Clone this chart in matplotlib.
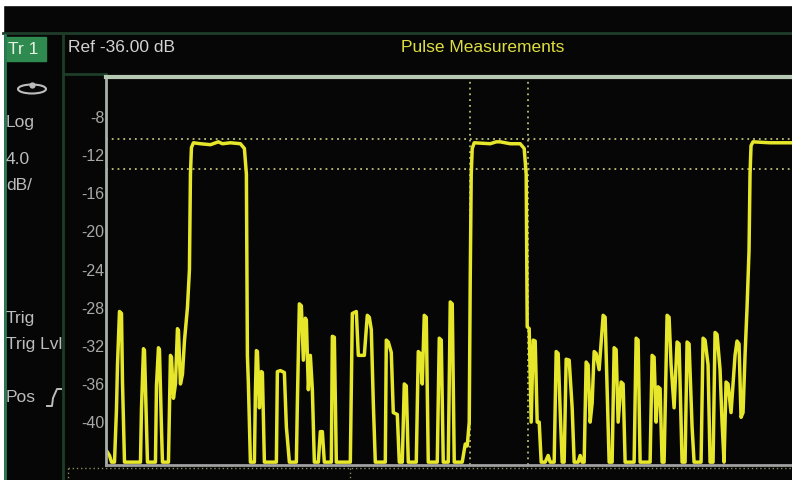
import numpy as np
import matplotlib
matplotlib.use("Agg")
import matplotlib.pyplot as plt
from matplotlib.patches import Rectangle, Ellipse

plt.rcParams['font.family'] = ['Liberation Sans', 'DejaVu Sans']

# trace vertices: time (samples) and level (dB)
trace_t = [1, 4, 6, 9, 11, 12, 14, 16, 17, 19, 35, 36, 38, 39, 41, 42, 50, 51, 53, 54,
           56, 57, 63, 65, 66, 68, 70, 72, 73, 75, 77, 79, 82, 84, 85, 86, 88, 95, 105, 113,
           117, 125, 135, 139, 141, 142, 143, 145, 149, 150, 151, 152, 154, 156, 157, 159, 171, 172, 175, 179,
           181, 184, 191, 192, 194, 196, 198, 200, 201, 203, 205, 207, 209, 213, 215, 217, 219, 226, 227, 229,
           231, 245, 247, 251, 253, 259, 262, 264, 266, 268, 270, 280, 281, 283, 286, 288, 292, 294, 297, 299,
           301, 303, 311, 313, 315, 317, 319, 321, 323, 332, 334, 336, 338, 343, 345, 347, 349, 357, 360, 362,
           364, 365, 366, 367, 369, 385, 391, 395, 405, 415, 419, 421, 422, 424, 426, 428, 430, 432, 434, 436,
           440, 443, 445, 449, 451, 453, 455, 457, 459, 461, 464, 467, 469, 473, 475, 477, 479, 481, 483, 485,
           487, 489, 491, 494, 498, 500, 502, 504, 507, 509, 511, 513, 516, 518, 520, 529, 531, 533, 535, 545,
           547, 549, 551, 553, 555, 557, 559, 562, 564, 566, 569, 572, 574, 577, 580, 582, 584, 587, 589, 596,
           598, 600, 603, 605, 608, 610, 612, 615, 617, 619, 621, 623, 626, 630, 632, 634, 636, 638, 640, 642,
           644, 645, 646, 648, 665, 687]
trace_db = [-43.0, -43.5, -44.2, -44.2, -38.6, -34.0, -28.4, -28.6, -35.8, -44.2, -44.2, -38.6, -32.3, -32.5, -40.6, -44.2, -44.2, -36.2, -32.2, -32.4,
            -40.6, -44.2, -44.2, -33.0, -33.2, -37.5, -36.0, -30.2, -30.4, -36.0, -35.0, -31.5, -28.0, -24.0, -14.0, -11.2, -10.7, -10.8, -10.9, -10.6,
            -10.8, -10.7, -10.8, -11.3, -14.0, -33.0, -36.0, -44.2, -44.2, -37.0, -32.5, -32.6, -38.5, -34.7, -34.8, -44.2, -44.2, -34.7, -34.6, -34.8,
            -40.5, -44.2, -44.2, -38.0, -27.6, -27.8, -33.5, -29.1, -29.3, -36.6, -33.0, -36.6, -44.2, -44.2, -41.0, -41.0, -44.2, -44.2, -31.0, -31.1,
            -44.2, -44.2, -28.6, -28.4, -33.0, -33.0, -28.8, -29.0, -30.3, -38.0, -44.2, -44.2, -31.4, -31.6, -32.7, -39.0, -39.2, -44.2, -44.2, -36.0,
            -36.2, -44.2, -44.2, -32.6, -32.8, -36.0, -28.8, -29.0, -44.2, -44.2, -31.2, -31.4, -44.2, -44.2, -27.4, -27.6, -44.2, -44.2, -42.3, -42.5,
            -40.0, -25.0, -14.0, -11.3, -10.7, -10.8, -10.6, -10.6, -10.8, -10.8, -11.3, -14.0, -30.0, -30.2, -40.0, -31.4, -31.5, -40.0, -40.0, -44.2,
            -44.2, -43.5, -44.2, -44.2, -32.6, -32.8, -38.8, -44.2, -44.2, -33.4, -33.5, -38.5, -44.2, -44.2, -43.5, -44.2, -44.2, -33.7, -34.0, -40.0,
            -38.0, -32.6, -32.8, -34.5, -28.8, -29.0, -36.7, -44.2, -44.2, -32.2, -32.4, -40.0, -35.8, -36.0, -44.2, -44.2, -31.2, -31.4, -44.2, -44.2,
            -33.0, -33.2, -40.0, -36.3, -36.5, -44.2, -44.2, -28.8, -29.0, -34.0, -38.5, -31.6, -31.8, -44.2, -44.2, -31.6, -31.8, -40.5, -44.2, -44.2,
            -31.2, -31.4, -34.0, -44.2, -44.2, -30.6, -30.8, -34.5, -40.0, -44.2, -35.8, -36.0, -39.0, -33.0, -31.5, -31.8, -39.5, -39.0, -33.0, -28.0,
            -22.0, -14.0, -11.0, -10.6, -10.7, -10.7]

y_ticks = [-8, -12, -16, -20, -24, -28, -32, -36, -40]
ref_lines_db = [-10.3, -13.5]
marker_t = [365, 423]

side_labels = ["Log", "4.0", "dB/", "Trig", "Trig Lvl", "Pos"]
side_label_y = [122, 160, 186, 318, 345, 398]

YEL = "#e6e62a"
DOT = "#bebe78"
GRAY = "#bcbcbc"

fig = plt.figure(figsize=(7.92, 4.8), dpi=100)
fig.patch.set_facecolor("#060606")

# background layer in pixel units for the instrument frame
bg = fig.add_axes([0, 0, 1, 1], zorder=0)
bg.set_xlim(0, 792)
bg.set_ylim(480, 0)
bg.axis("off")
bg.add_patch(Rectangle((0, 0), 792, 5, color="white"))
bg.add_patch(Rectangle((0, 0), 3, 480, color="white"))
bg.plot([3, 792], [33, 33], color="#1f3d2b", lw=2)
bg.plot([4.5, 4.5], [35, 480], color="#2a7a55", lw=2)
bg.plot([63, 63], [35, 480], color="#1d3d28", lw=2)
bg.plot([63, 106], [74, 74], color="#1d3d28", lw=2)
bg.add_patch(Rectangle((5, 37), 41, 24, color="#2f8a50"))
bg.text(8, 49, "Tr 1", color="#e4f2e4", fontsize=12.5, va="center")
bg.add_patch(Ellipse((32, 89), 28, 9, fill=False, ec=GRAY, lw=1.5))
bg.plot([32], [84.5], "o", color=GRAY, ms=3.5)
for lab, yy in zip(side_labels, side_label_y):
    bg.text(6, yy, lab, color=GRAY, fontsize=12.5, va="center")
# rising edge symbol after "Pos"
bg.plot([47, 52, 53, 57, 61], [406, 406, 398, 389, 389], color=GRAY, lw=1.4)
bg.text(68, 48, "Ref -36.00 dB", color="#d2d2d2", fontsize=12.5, va="center")
bg.text(483, 48, "Pulse Measurements", color="#dede40", fontsize=12.5,
        va="center", ha="center")
bg.plot([68, 792], [468, 468], color="#8a8a60", lw=1, ls=(0, (1, 2)))
bg.plot([68, 68], [468, 480], color="#8a8a60", lw=1, ls=(0, (1, 2)))
bg.plot([350, 350], [468, 480], color="#8a8a60", lw=1, ls=(0, (1, 2)))

# main trace axes
ax = fig.add_axes([106 / 792, 15 / 480, 686 / 792, 388 / 480], zorder=1)
ax.set_facecolor("#060606")
ax.set_xlim(0.5, 687)
ax.set_ylim(-44.5, -3.8)

for lv in ref_lines_db:
    ax.axhline(lv, color=DOT, lw=1.3, ls=(0, (1, 2.2)))
for mt in marker_t:
    ax.axvline(mt, color=DOT, lw=1.3, ls=(0, (1, 2.2)))

ax.plot(trace_t, trace_db, color=YEL, lw=2.5, solid_joinstyle="round")

ax.set_yticks(y_ticks)
ax.set_yticklabels([str(v) for v in y_ticks], color="#a8a8a8", fontsize=11.5)
ax.tick_params(axis="y", length=0, pad=1)
ax.set_xticks([])
ax.spines["right"].set_visible(False)
ax.spines["left"].set_color("#a8b0a8")
ax.spines["left"].set_linewidth(2)
ax.spines["top"].set_color("#b4c8b4")
ax.spines["top"].set_linewidth(3)
ax.spines["bottom"].set_color("#a0a0a0")
ax.spines["bottom"].set_linewidth(2)

fig.savefig("out.png", dpi=100, facecolor=fig.get_facecolor())
